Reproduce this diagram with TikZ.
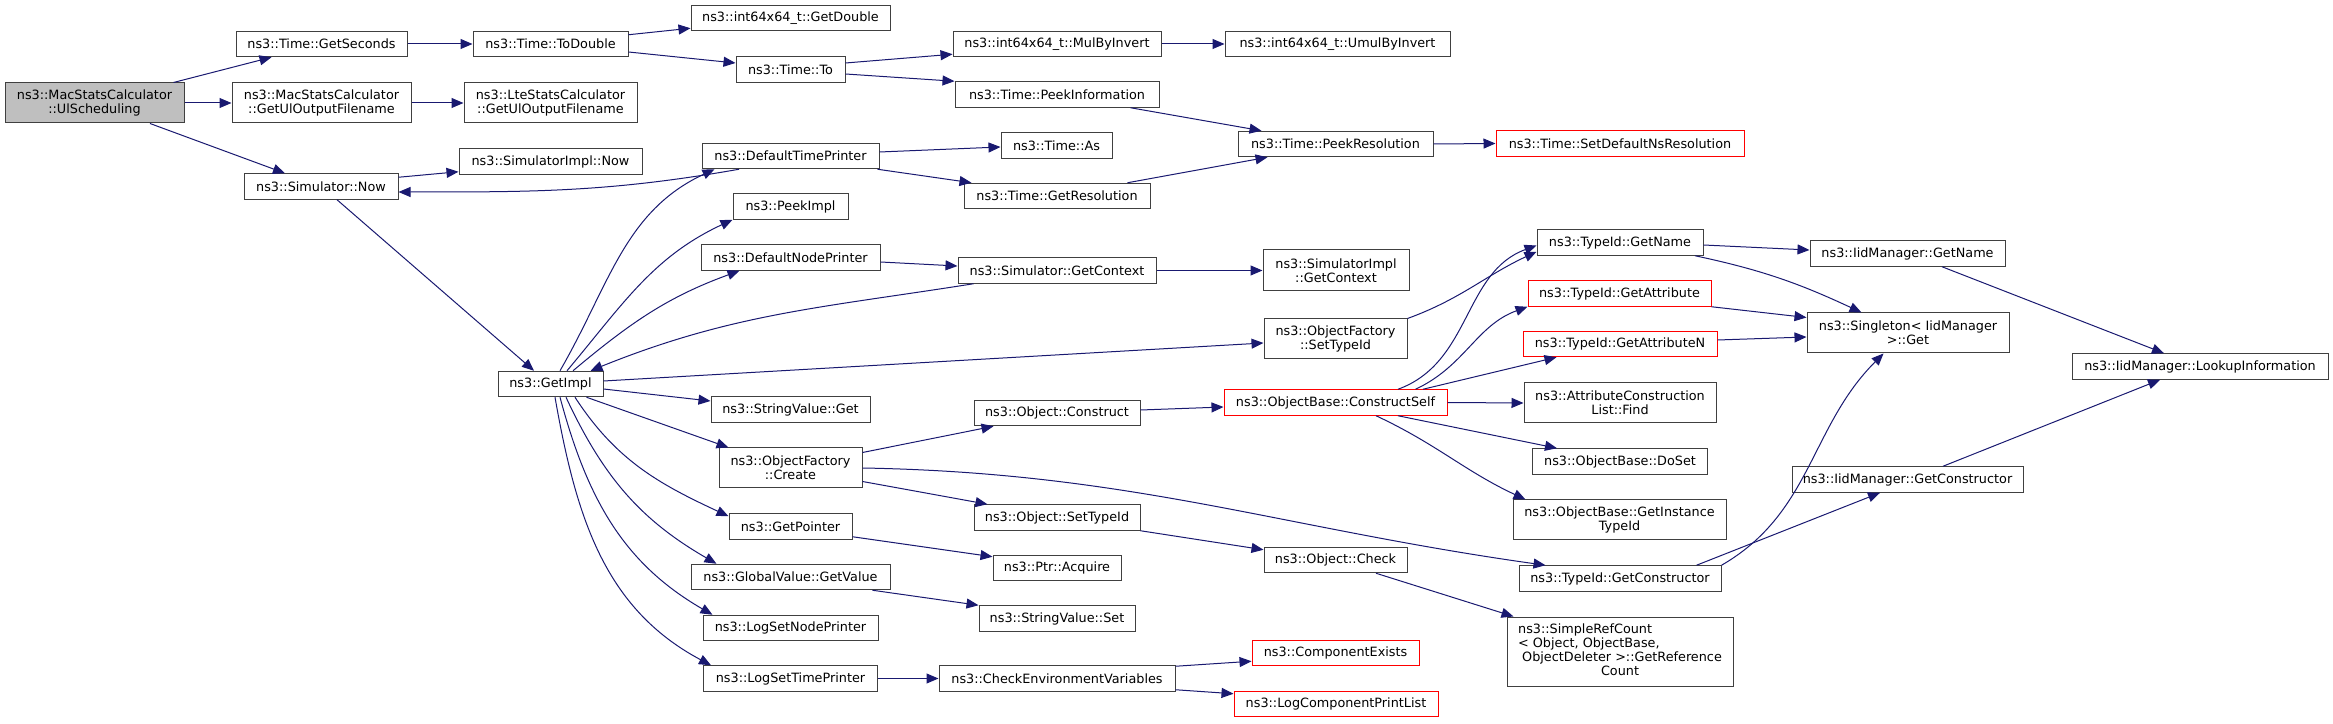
\documentclass[tikz,border=0pt]{standalone}
\usepackage{fontspec}
\setmainfont{DejaVu Sans}
\usepackage{xcolor}
\usetikzlibrary{arrows.meta}
\definecolor{edgeblue}{HTML}{191970}
\definecolor{boxline}{HTML}{404040}
\definecolor{rootfill}{HTML}{BFBFBF}

\begin{document}
\begin{tikzpicture}[
    x=1pt, y=1pt,
    func/.style = {rectangle, draw=boxline, line width=1pt, fill=white, inner sep=0pt, minimum height=25.5pt, align=center, font=\fontsize{12.8}{14}\selectfont},
    func2/.style = {func, minimum height=40pt},
    root/.style = {func2, fill=rootfill},
    trunc/.style = {func, draw=red},
    call/.style = {draw=edgeblue, line width=1pt, -{Triangle[length=12pt, width=10pt]}}
]
    \useasboundingbox (0,0) rectangle (2333,723);

    % Caller
    \node[root, minimum width=179pt] (ulsched) at (94.5,620) {ns3::MacStatsCalculator\\::UlScheduling};

    % Direct callees
    \node[func, minimum width=171pt] (getseconds) at (321.5,679) {ns3::Time::GetSeconds};
    \node[func2, minimum width=179pt] (macgetul) at (321.5,620) {ns3::MacStatsCalculator\\::GetUlOutputFilename};
    \node[func, minimum width=154pt] (simnow) at (321,536.5) {ns3::Simulator::Now};

    % Second level
    \node[func, minimum width=155pt] (todouble) at (550.5,679) {ns3::Time::ToDouble};
    \node[func2, minimum width=173pt] (ltegetul) at (550.5,620) {ns3::LteStatsCalculator\\::GetUlOutputFilename};
    \node[func, minimum width=183pt] (simimplnow) at (550.5,561.5) {ns3::SimulatorImpl::Now};
    \node[func, minimum width=105pt] (getimpl) at (550.5,339) {ns3::GetImpl};

    % Third level
    \node[func, minimum width=199pt] (getdouble) at (790.5,705) {ns3::int64x64\_t::GetDouble};
    \node[func, minimum width=109pt] (timeto) at (790.5,653.5) {ns3::Time::To};
    \node[func, minimum width=177pt] (deftimeprinter) at (790.5,567) {ns3::DefaultTimePrinter};
    \node[func, minimum width=115pt] (peekimpl) at (790.5,516.5) {ns3::PeekImpl};
    \node[func, minimum width=179pt] (defnodeprinter) at (790.5,465.5) {ns3::DefaultNodePrinter};
    \node[func, minimum width=159pt] (strvalget) at (790.5,313.5) {ns3::StringValue::Get};
    \node[func2, minimum width=143pt] (ofcreate) at (790.5,255) {ns3::ObjectFactory\\::Create};
    \node[func, minimum width=123pt] (getpointer) at (790.5,196.5) {ns3::GetPointer};
    \node[func, minimum width=199pt] (globalvalue) at (790.5,146) {ns3::GlobalValue::GetValue};
    \node[func, minimum width=175pt] (logsetnode) at (790.5,95) {ns3::LogSetNodePrinter};
    \node[func, minimum width=174pt] (logsettime) at (790.5,44.5) {ns3::LogSetTimePrinter};

    % Fourth level
    \node[func, minimum width=208pt] (mulbyinvert) at (1057,679) {ns3::int64x64\_t::MulByInvert};
    \node[func, minimum width=204pt] (peekinfo) at (1057,628.5) {ns3::Time::PeekInformation};
    \node[func, minimum width=111pt] (timeas) at (1056.5,577.5) {ns3::Time::As};
    \node[func, minimum width=186pt] (timegetres) at (1057,527) {ns3::Time::GetResolution};
    \node[func, minimum width=198pt] (simgetctx) at (1057,452.5) {ns3::Simulator::GetContext};
    \node[func, minimum width=166pt] (objconstruct) at (1057,310) {ns3::Object::Construct};
    \node[func, minimum width=166pt] (objsettypeid) at (1057,205.5) {ns3::Object::SetTypeId};
    \node[func, minimum width=128pt] (ptracquire) at (1057,155) {ns3::Ptr::Acquire};
    \node[func, minimum width=156pt] (strvalset) at (1057,104.5) {ns3::StringValue::Set};
    \node[func, minimum width=236pt] (checkenv) at (1057,44.5) {ns3::CheckEnvironmentVariables};

    % Fifth level
    \node[func, minimum width=225pt] (umulbyinvert) at (1337.5,679) {ns3::int64x64\_t::UmulByInvert};
    \node[func, minimum width=195pt] (peekres) at (1335.5,579) {ns3::Time::PeekResolution};
    \node[func2, minimum width=146pt, minimum height=41pt] (simimplgetctx) at (1336,452.5) {ns3::SimulatorImpl\\::GetContext};
    \node[func2, minimum width=143pt] (ofsettypeid) at (1335.5,384) {ns3::ObjectFactory\\::SetTypeId};
    \node[trunc, minimum width=223pt] (constructself) at (1335.5,320.5) {ns3::ObjectBase::ConstructSelf};
    \node[func, minimum width=143pt] (objcheck) at (1335.5,163) {ns3::Object::Check};
    \node[trunc, minimum width=167pt] (compexists) at (1335.5,70) {ns3::ComponentExists};
    \node[trunc, minimum width=204pt] (logcompprint) at (1336,19) {ns3::LogComponentPrintList};

    % Sixth level
    \node[trunc, minimum width=248pt] (setdefres) at (1620,579.5) {ns3::Time::SetDefaultNsResolution};
    \node[func, minimum width=166pt] (tidgetname) at (1620,480.5) {ns3::TypeId::GetName};
    \node[trunc, minimum width=183pt] (getattr) at (1619.5,429.5) {ns3::TypeId::GetAttribute};
    \node[trunc, minimum width=194pt] (getattrn) at (1620,379) {ns3::TypeId::GetAttributeN};
    \node[func2, minimum width=192pt] (attrconstlist) at (1620,320) {ns3::AttributeConstruction\\List::Find};
    \node[func, minimum width=175pt] (doset) at (1620,261.5) {ns3::ObjectBase::DoSet};
    \node[func2, minimum width=213pt] (getinsttypeid) at (1619.5,203) {ns3::ObjectBase::GetInstance\\TypeId};
    \node[func, minimum width=202pt] (tidgetctor) at (1620,144.5) {ns3::TypeId::GetConstructor};
    \node[func, minimum width=226pt, minimum height=69pt] (simplerefcount) at (1620,71.5) {\begin{tabular}{@{}l@{}}ns3::SimpleRefCount\\< Object, ObjectBase,\\\ ObjectDeleter >::GetReference\\\multicolumn{1}{@{}c@{}}{Count}\end{tabular}};

    % IidManager
    \node[func, minimum width=195pt] (iidgetname) at (1907.5,469.5) {ns3::IidManager::GetName};
    \node[func2, minimum width=202pt] (singleton) at (1908,390) {ns3::Singleton< IidManager\\ >::Get};
    \node[func, minimum width=231pt] (iidgetctor) at (1907.5,243.5) {ns3::IidManager::GetConstructor};
    \node[func, minimum width=256pt] (lookupinfo) at (2200,356.5) {ns3::IidManager::LookupInformation};

    % Calls from the caller
    \draw[call] ([xshift=-11pt]ulsched.north east) -- ([xshift=36pt]getseconds.south west);
    \draw[call] (ulsched.east) -- (macgetul.west);
    \draw[call] ([xshift=55.5pt]ulsched.south) -- ([xshift=-36pt]simnow.north);

    % Time and simulator calls
    \draw[call] (getseconds.east) -- (todouble.west);
    \draw[call] (macgetul.east) -- (ltegetul.west);
    \draw[call] ([yshift=-4pt]simnow.north east) -- ([yshift=3pt]simimplnow.south west);
    \draw[call] ([xshift=-51.5pt]deftimeprinter.south) to[out=190, in=0] ([yshift=-5.5pt]simnow.east);
    \draw[call] ([xshift=16pt]simnow.south) -- ([xshift=-16.5pt]getimpl.north);
    \draw[call] ([yshift=-4pt]todouble.north east) -- ([yshift=3pt]getdouble.south west);
    \draw[call] ([yshift=-8pt]todouble.east) -- ([yshift=6.5pt]timeto.west);
    \draw[call] ([yshift=6.5pt]timeto.east) -- ([yshift=3pt]mulbyinvert.south west);
    \draw[call] ([yshift=-4.5pt]timeto.east) -- (peekinfo.north west);
    \draw[call] (mulbyinvert.east) -- (umulbyinvert.west);
    \draw[call] ([xshift=-29pt]peekinfo.south east) -- ([xshift=24pt]peekres.north west);
    \draw[call] ([yshift=4pt]deftimeprinter.east) -- ([yshift=-1.5pt]timeas.west);
    \draw[call] ([xshift=-2pt]deftimeprinter.south east) -- ([xshift=8pt]timegetres.north west);
    \draw[call] ([xshift=-23pt]timegetres.north east) -- ([xshift=30pt]peekres.south west);
    \draw[call] (peekres.east) -- (setdefres.west);

    % Calls from GetImpl
    \draw[call] ([xshift=9.5pt]getimpl.north) to[out=60, in=205] ([xshift=13pt]deftimeprinter.south west);
    \draw[call] ([xshift=16.5pt]getimpl.north) to[out=50, in=205] (peekimpl.south west);
    \draw[call] ([xshift=22.5pt]getimpl.north) to[out=40, in=200] ([xshift=39pt]defnodeprinter.south west);
    \draw[call] ([xshift=16pt]simgetctx.south west) to[out=189, in=22] ([xshift=-13pt]getimpl.north east);
    \draw[call] ([yshift=-4.5pt]defnodeprinter.east) -- ([yshift=4.5pt]simgetctx.west);
    \draw[call] (simgetctx.east) -- (simimplgetctx.west);
    \draw[call] ([yshift=3pt]getimpl.east) -- ([yshift=-4pt]ofsettypeid.west);
    \draw[call] ([yshift=-5pt]getimpl.east) -- ([yshift=8.5pt]strvalget.west);
    \draw[call] ([xshift=-17pt]getimpl.south east) -- ([xshift=10pt]ofcreate.north west);
    \draw[call] ([xshift=24.5pt]getimpl.south) to[out=-57, in=155] ([yshift=-3pt]getpointer.north west);
    \draw[call] ([xshift=15.5pt]getimpl.south) to[out=-65, in=150] ([xshift=26pt]globalvalue.north west);
    \draw[call] ([xshift=9.5pt]getimpl.south) to[out=-75, in=150] ([xshift=10pt]logsetnode.north west);
    \draw[call] ([xshift=4.5pt]getimpl.south) to[out=-80, in=152] ([xshift=8pt]logsettime.north west);

    % Object creation
    \draw[call] (ofsettypeid.north east) to[out=20, in=205] ([yshift=4pt]tidgetname.south west);
    \draw[call] ([yshift=-5pt]ofcreate.north east) -- ([xshift=20pt]objconstruct.south west);
    \draw[call] (ofcreate.east) to[out=-1, in=172] ([xshift=27pt]tidgetctor.north west);
    \draw[call] ([yshift=7pt]ofcreate.south east) -- ([xshift=14pt]objsettypeid.north west);
    \draw[call] ([yshift=3pt]getpointer.south east) -- ([yshift=-2pt]ptracquire.north west);
    \draw[call] ([xshift=-18pt]globalvalue.south east) -- (strvalset.north west);
    \draw[call] (logsettime.east) -- (checkenv.west);
    \draw[call] ([yshift=-1pt]checkenv.north east) -- ([yshift=5pt]compexists.south west);
    \draw[call] ([yshift=2pt]checkenv.south east) -- ([yshift=-3pt]logcompprint.north west);
    \draw[call] ([yshift=3pt]objconstruct.east) -- ([yshift=-4.5pt]constructself.west);
    \draw[call] (objsettypeid.south east) -- ([yshift=-3pt]objcheck.north west);
    \draw[call] ([xshift=40.5pt]objcheck.south) -- ([xshift=7pt]simplerefcount.north west);

    % Calls from ConstructSelf
    \draw[call] ([xshift=62.5pt]constructself.north) to[out=20, in=200] ([yshift=-3pt]tidgetname.west);
    \draw[call] ([xshift=80pt]constructself.north) to[out=25, in=200] (getattr.south west);
    \draw[call] ([xshift=87.5pt]constructself.north) -- ([xshift=34pt]getattrn.south west);
    \draw[call] (constructself.east) -- (attrconstlist.west);
    \draw[call] ([xshift=62.5pt]constructself.south) -- ([xshift=25pt]doset.north west);
    \draw[call] ([xshift=40.5pt]constructself.south) to[out=-25, in=155] ([xshift=13pt]getinsttypeid.north west);

    % TypeId and IidManager
    \draw[call] ([yshift=-2.5pt]tidgetname.east) -- ([yshift=3.5pt]iidgetname.west);
    \draw[call] ([xshift=-8.5pt]tidgetname.south east) to[out=-12, in=155] ([xshift=55pt]singleton.north west);
    \draw[call] (getattr.south east) -- ([yshift=-5pt]singleton.north west);
    \draw[call] ([yshift=4pt]getattrn.east) -- ([yshift=-4pt]singleton.west);
    \draw[call] ([xshift=34.5pt]iidgetname.south) -- ([xshift=-36pt]lookupinfo.north);
    \draw[call] (tidgetctor.north east) to[out=30, in=225] ([xshift=-24.5pt]singleton.south);
    \draw[call] ([xshift=-25pt]tidgetctor.north east) -- ([xshift=-27.5pt]iidgetctor.south);
    \draw[call] ([xshift=35.5pt]iidgetctor.north) -- ([xshift=-40pt]lookupinfo.south);
\end{tikzpicture}
\end{document}
